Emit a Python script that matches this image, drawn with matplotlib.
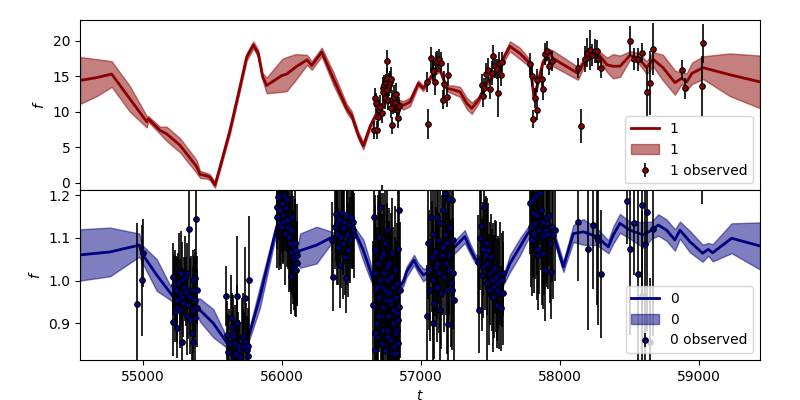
import numpy as np
import matplotlib.pyplot as plt

### Modell Kurve 1 (oben): Zeit, Mittelwert, halbe Bandbreite
t1_model = [54547, 54667, 54775, 54906, 55027, 55038, 55122, 55170, 55266, 55386,
            55410, 55458, 55482, 55518, 55554, 55626, 55698, 55746, 55794, 55829,
            55861, 55890, 56000, 56034, 56100, 56180, 56214, 56286, 56369, 56465,
            56501, 56549, 56585, 56633, 56681, 56753, 56825, 56873, 56921, 56981,
            57016, 57065, 57088, 57137, 57185, 57232, 57281, 57329, 57365, 57412,
            57473, 57568, 57640, 57712, 57784, 57813, 57878, 57928, 57950, 58129,
            58192, 58266, 58338, 58381, 58432, 58503, 58561, 58624, 58669, 58741,
            58827, 58875, 58911, 58950, 59029, 59223, 59439]
f1_mean = [14.4, 14.8, 15.3, 11.8, 8.6, 9.0, 7.4, 6.9, 5.3, 2.3,
           1.2, 1.0, 0.8, -0.3, 2.2, 7.4, 13.5, 17.7, 19.4, 18.2,
           14.9, 13.7, 15.1, 15.3, 16.3, 17.3, 16.5, 18.4, 14.7, 10.5,
           9.5, 6.7, 5.2, 7.9, 9.8, 11.6, 11.4, 10.9, 11.4, 14.0,
           13.3, 14.7, 15.4, 15.9, 13.3, 13.1, 12.8, 11.2, 10.5, 11.6,
           14.0, 16.6, 19.2, 18.2, 16.8, 11.9, 17.0, 18.4, 17.5, 15.4,
           17.6, 18.4, 16.6, 16.4, 16.4, 17.9, 17.6, 16.2, 17.4, 16.2,
           14.1, 14.7, 14.2, 15.4, 16.2, 15.2, 14.2]
f1_hw = [3.3, 2.6, 1.8, 1.8, 0.8, 0.4, 0.5, 1.0, 1.0, 0.9,
         0.5, 0.4, 0.4, 0.4, 0.4, 0.5, 0.5, 0.5, 0.5, 0.5,
         0.5, 1.1, 2.3, 2.4, 1.8, 0.7, 0.6, 0.6, 0.9, 0.6,
         0.6, 0.5, 0.5, 0.4, 0.3, 0.3, 0.4, 0.6, 0.6, 0.4,
         0.4, 0.3, 0.3, 0.3, 0.4, 0.6, 0.7, 0.8, 0.8, 0.5,
         0.4, 0.4, 0.7, 0.8, 0.5, 0.5, 0.4, 0.4, 1.1, 0.9,
         0.5, 0.4, 1.0, 1.7, 1.5, 0.6, 0.7, 0.9, 1.0, 1.8,
         1.7, 0.8, 1.2, 1.5, 1.6, 3.0, 3.7]

### Beobachtungen 1
t1_obs = [56669, 56674, 56662, 56686, 56693, 56700, 56705, 56717, 56724, 56729,
          56734, 56741, 56748, 56753, 56758, 56758, 56765, 56772, 56777, 56782,
          56787, 56789, 56794, 56801, 56808, 56813, 56818, 56825, 56830, 56837, 56844,
          57045, 57053, 57072, 57084, 57089, 57101, 57105, 57117, 57132, 57141, 57161, 57168, 57185, 57197,
          57436, 57444, 57456, 57468, 57484, 57496, 57508, 57516, 57532, 57544, 57556, 57564, 57575, 57580,
          57784, 57796, 57808, 57820, 57837, 57837, 57868, 57880, 57892, 57909, 57923, 57940,
          58132, 58151, 58180, 58196, 58216, 58228, 58252, 58264, 58276, 58292,
          58503, 58532, 58563, 58592, 58623, 58647, 58666, 58875, 58899, 59019, 59031,
          56717]
f1_obs = [12.0, 11.2, 7.4, 7.4, 9.3, 10.2, 10.7, 9.8, 12.8, 13.3,
          13.8, 11.9, 14.0, 14.7, 17.1, 13.1, 11.7, 13.8, 14.2, 10.5,
          14.6, 8.1, 11.7, 11.2, 12.1, 11.2, 12.5, 10.2, 10.7, 9.1, 10.8,
          14.2, 8.3, 17.5, 15.9, 15.8, 14.2, 16.8, 17.1, 17.4, 16.9, 11.7, 13.9, 12.1, 15.2,
          13.8, 12.2, 13.3, 15.3, 15.9, 13.2, 15.5, 17.9, 16.4, 16.0, 12.6, 16.9, 15.2, 17.0,
          16.7, 15.0, 9.0, 11.9, 10.2, 14.4, 14.6, 13.2, 18.1, 18.5, 16.4, 17.1,
          16.1, 8.0, 17.4, 18.3, 18.7, 18.0, 18.5, 18.5, 17.4, 16.1,
          19.9, 17.4, 17.4, 18.2, 12.8, 14.0, 18.8, 15.9, 13.3, 13.6, 19.6,
          -2.5]
f1_err = [1.3, 1.4, 1.3, 1.3, 1.5, 1.4, 1.6, 1.4, 1.5, 1.6,
          1.4, 1.5, 1.3, 1.5, 1.6, 1.5, 1.4, 1.6, 1.5, 1.4,
          1.7, 1.2, 1.4, 1.5, 1.6, 1.4, 1.5, 1.3, 1.4, 1.4, 1.3,
          1.4, 2.1, 1.6, 1.5, 1.5, 1.9, 1.6, 1.5, 1.4, 1.5, 1.3, 1.8, 1.4, 1.6,
          1.5, 1.6, 1.4, 1.5, 1.6, 1.4, 1.7, 1.5, 1.6, 1.4, 3.4, 1.5, 1.6, 1.4,
          1.5, 1.4, 1.3, 1.4, 1.3, 1.6, 1.5, 1.5, 1.5, 1.4, 1.3, 1.4,
          1.4, 2.4, 1.8, 2.0, 2.8, 1.5, 1.7, 1.6, 1.5, 1.4,
          2.1, 1.5, 1.6, 1.4, 3.5, 4.5, 3.7, 1.4, 1.5, 4.3, 2.8,
          2.2]

### Modell Kurve 0 (unten)
t0_model = [54547, 54763, 54974, 54991, 55099, 55218, 55290, 55374, 55410, 55506,
            55590, 55674, 55746, 55842, 55962, 55986, 56029, 56072, 56108, 56130,
            56249, 56369, 56513, 56525, 56585, 56633, 56669, 56849, 56873, 56897,
            56950, 56981, 57017, 57064, 57256, 57315, 57353, 57388, 57424, 57520,
            57585, 57640, 57712, 57760, 57800, 57856, 57952, 57988, 58024, 58060,
            58096, 58168, 58264, 58348, 58384, 58431, 58503, 58599, 58659, 58707,
            58767, 58827, 58863, 58935, 59026, 59067, 59098, 59235, 59439]
f0_mean = [1.060, 1.067, 1.083, 1.064, 1.013, 0.962, 0.955, 0.947, 0.931, 0.900,
           0.861, 0.820, 0.853, 0.962, 1.126, 1.134, 1.100, 1.070, 1.058, 1.070,
           1.083, 1.103, 1.122, 1.114, 1.071, 1.025, 0.986, 0.986, 0.997, 1.021,
           1.048, 1.029, 1.013, 1.022, 1.083, 1.103, 1.075, 1.052, 1.044, 1.025,
           0.995, 1.040, 1.079, 1.106, 1.125, 1.138, 1.110, 1.071, 1.032, 1.071,
           1.110, 1.114, 1.103, 1.079, 1.107, 1.134, 1.118, 1.107, 1.118, 1.130,
           1.118, 1.095, 1.118, 1.091, 1.064, 1.073, 1.065, 1.099, 1.081]
f0_hw = [0.060, 0.057, 0.027, 0.020, 0.037, 0.012, 0.010, 0.012, 0.027, 0.033,
         0.015, 0.010, 0.010, 0.025, 0.012, 0.010, 0.010, 0.010, 0.012, 0.040,
         0.043, 0.010, 0.010, 0.010, 0.025, 0.020, 0.008, 0.008, 0.010, 0.012,
         0.012, 0.012, 0.015, 0.008, 0.015, 0.015, 0.012, 0.010, 0.010, 0.010,
         0.010, 0.020, 0.020, 0.015, 0.012, 0.012, 0.010, 0.012, 0.012, 0.015,
         0.020, 0.030, 0.020, 0.015, 0.020, 0.022, 0.020, 0.030, 0.020, 0.025,
         0.025, 0.025, 0.020, 0.025, 0.020, 0.015, 0.020, 0.035, 0.055]

### Beobachtungen 0 (Gruppen)
t0_obs = [54959, 54998, 54995,
          55214, 55223, 55230, 55238, 55242, 55247, 55254, 55262, 55266, 55274,
          55278, 55283, 55290, 55295, 55302, 55310, 55314, 55319, 55326, 55334,
          55338, 55346, 55350, 55358, 55362, 55367, 55372, 55377, 55382, 55386,
          55391, 55218, 55247, 55278, 55362, 55230, 55266, 55338, 55374,
          55597, 55602, 55609, 55621, 55631, 55638, 55645, 55650, 55655, 55662,
          55669, 55674, 55679, 55686, 55693, 55698, 55710, 55717, 55722, 55727,
          55734, 55741, 55746, 55753, 55758, 55765, 55686, 55746,
          55962, 55967, 55974, 55981, 55986, 55993, 55998, 56005, 56010, 56015,
          56022, 56029, 56034, 56039, 56046, 56053, 56058, 56063, 56067, 56072,
          56077, 56082, 56087, 56091, 56096, 56101, 56106, 56111, 56067, 56094,
          56362, 56369, 56381, 56388, 56393, 56398, 56405, 56412, 56417, 56422,
          56429, 56436, 56441, 56446, 56453, 56460, 56465, 56470, 56477, 56484,
          56489, 56494, 56501, 56508, 56513, 56518,
          56657, 56662, 56667, 56671, 56676, 56681, 56686, 56691, 56695, 56700,
          56705, 56710, 56715, 56719, 56724, 56729, 56734, 56739, 56743, 56748,
          56753, 56758, 56763, 56767, 56772, 56777, 56782, 56787, 56791, 56796,
          56801, 56806, 56811, 56815, 56820, 56825, 56830, 56834, 56839, 56844,
          56849, 56669, 56693, 56717, 56741, 56765, 56789, 56813, 56837, 56705,
          56729, 56753, 56777, 56801, 56825, 56681, 56837, 56671, 56758, 56818,
          57046, 57053, 57060, 57065, 57072, 57077, 57084, 57089, 57093, 57101,
          57108, 57113, 57117, 57125, 57132, 57137, 57141, 57149, 57156, 57161,
          57165, 57173, 57180, 57185, 57189, 57194, 57199, 57204, 57209, 57213,
          57221, 57228, 57233, 57237, 57197, 57089, 57137, 57173, 57221, 57113,
          57412, 57420, 57424, 57429, 57436, 57444, 57448, 57453, 57460, 57468,
          57472, 57477, 57484, 57492, 57496, 57501, 57508, 57516, 57520, 57525,
          57532, 57540, 57544, 57549, 57556, 57564, 57568, 57575, 57580, 57587,
          57592,
          57784, 57791, 57796, 57803, 57808, 57813, 57820, 57827, 57832, 57837,
          57844, 57851, 57856, 57861, 57868, 57875, 57880, 57885, 57892, 57899,
          57904, 57909, 57916, 57923, 57928, 57933, 57940, 57952, 57964,
          58132, 58204, 58235, 58264, 58276, 58292,
          58484, 58503, 58532, 58563, 58592, 58611, 58628, 58666, 58587, 58647,
          59019]
f0_obs = [0.944, 1.064, 1.001,
          1.008, 0.990, 0.982, 0.978, 0.955, 0.935, 0.994, 1.021, 0.970, 1.017,
          0.962, 1.001, 0.947, 0.986, 1.005, 0.974, 0.916, 1.017, 0.943, 1.120,
          0.962, 0.978, 0.877, 1.001, 0.931, 0.978, 0.955, 1.005, 1.145, 0.978,
          0.935, 0.904, 0.888, 0.857, 0.857, 0.927, 0.931, 0.908, 0.912,
          0.964, 0.873, 0.832, 0.853, 0.912, 0.892, 0.877, 0.869, 0.826, 0.853,
          0.830, 0.964, 0.900, 0.846, 0.838, 0.822, 0.869, 0.853, 0.871, 0.846,
          0.959, 0.857, 0.838, 0.824, 0.846, 1.001, 0.799, 0.791,
          1.173, 1.149, 1.196, 1.134, 1.165, 1.126, 1.181, 1.153, 1.138, 1.200,
          1.110, 1.169, 1.142, 1.188, 1.126, 1.103, 1.087, 1.118, 1.068, 1.149,
          1.056, 1.079, 1.032, 1.048, 1.087, 1.025, 1.060, 1.040, 1.011, 1.071,
          1.095, 1.009, 1.126, 1.156, 1.110, 1.134, 1.079, 1.145, 1.036, 1.103,
          1.157, 1.122, 1.087, 1.138, 1.056, 1.005, 1.110, 1.153, 1.071, 1.130,
          1.095, 1.149, 1.126, 1.138, 1.118, 1.106,
          0.943, 1.149, 1.017, 1.071, 0.978, 0.900, 0.869, 1.040, 1.103, 0.962,
          1.001, 0.916, 1.056, 0.986, 0.939, 0.885, 1.017, 0.978, 1.087, 0.955,
          1.118, 1.001, 0.916, 1.040, 0.970, 0.861, 1.009, 0.947, 1.064, 0.900,
          0.986, 0.846, 1.025, 0.931, 0.962, 0.885, 0.994, 1.075, 0.939, 1.165,
          0.978, 0.877, 0.916, 0.853, 0.838, 0.869, 0.830, 0.877, 0.853, 1.173,
          1.064, 1.032, 0.955, 0.931, 0.923, 0.986, 0.908, 0.838, 0.885, 0.830,
          0.917, 1.087, 1.025, 0.978, 1.149, 1.056, 1.001, 1.110, 0.947, 1.068,
          1.032, 1.149, 0.986, 1.095, 1.017, 1.134, 0.970, 1.060, 1.165, 1.079,
          1.009, 1.110, 1.040, 0.978, 1.087, 0.898, 1.060, 1.025, 1.126, 0.994,
          1.188, 1.095, 1.017, 0.955, 1.192, 0.900, 0.931, 1.204, 0.978, 1.040,
          1.044, 0.931, 1.099, 1.128, 1.013, 1.075, 1.032, 1.173, 1.060, 1.087,
          0.994, 1.040, 1.071, 0.978, 1.017, 1.056, 1.001, 1.025, 0.962, 0.986,
          1.032, 1.009, 0.943, 0.978, 0.994, 0.970, 1.017, 0.935, 1.001, 0.970,
          1.017,
          1.181, 1.126, 1.095, 1.157, 1.192, 1.110, 1.134, 1.200, 1.075, 1.153,
          1.060, 1.118, 1.204, 1.165, 1.103, 1.064, 1.138, 1.106, 1.025, 1.118,
          1.149, 1.134, 1.110, 1.153, 1.087, 1.021, 1.126, 1.106, 1.118,
          1.138, 1.075, 1.130, 1.103, 1.096, 1.015,
          1.186, 1.073, 1.134, 1.015, 1.177, 1.085, 1.161, 1.120, 0.964, 0.857,
          1.350]
f0_err = [0.19, 0.08, 0.13,
          0.08, 0.07, 0.09, 0.08, 0.10, 0.08, 0.07, 0.09, 0.08, 0.10,
          0.07, 0.09, 0.08, 0.07, 0.10, 0.08, 0.09, 0.07, 0.08, 0.10,
          0.09, 0.08, 0.09, 0.07, 0.10, 0.08, 0.09, 0.07, 0.13, 0.08,
          0.09, 0.08, 0.07, 0.09, 0.08, 0.07, 0.09, 0.08, 0.10,
          0.07, 0.08, 0.09, 0.08, 0.10, 0.08, 0.09, 0.07, 0.08, 0.09,
          0.08, 0.14, 0.09, 0.08, 0.07, 0.08, 0.09, 0.08, 0.10, 0.08,
          0.12, 0.09, 0.08, 0.07, 0.09, 0.15, 0.08, 0.08,
          0.10, 0.12, 0.10, 0.11, 0.13, 0.10, 0.12, 0.11, 0.10, 0.13,
          0.12, 0.10, 0.11, 0.12, 0.10, 0.13, 0.11, 0.12, 0.10, 0.14,
          0.11, 0.12, 0.10, 0.13, 0.15, 0.11, 0.12, 0.10, 0.09, 0.12,
          0.09, 0.08, 0.10, 0.11, 0.12, 0.10, 0.09, 0.11, 0.10, 0.12,
          0.10, 0.11, 0.13, 0.10, 0.09, 0.08, 0.12, 0.10, 0.11, 0.13,
          0.10, 0.12, 0.10, 0.11, 0.09, 0.10,
          0.15, 0.14, 0.16, 0.13, 0.17, 0.15, 0.14, 0.16, 0.15, 0.13,
          0.16, 0.14, 0.15, 0.17, 0.13, 0.15, 0.16, 0.14, 0.15, 0.13,
          0.14, 0.16, 0.15, 0.13, 0.17, 0.14, 0.15, 0.16, 0.13, 0.15,
          0.14, 0.16, 0.15, 0.17, 0.13, 0.15, 0.14, 0.16, 0.15, 0.14,
          0.16, 0.15, 0.13, 0.14, 0.16, 0.15, 0.14, 0.13, 0.15, 0.16,
          0.14, 0.15, 0.16, 0.13, 0.15, 0.14, 0.16, 0.15, 0.13, 0.14,
          0.12, 0.13, 0.14, 0.12, 0.15, 0.13, 0.14, 0.12, 0.13, 0.15,
          0.14, 0.12, 0.13, 0.15, 0.14, 0.12, 0.13, 0.14, 0.15, 0.12,
          0.13, 0.14, 0.12, 0.15, 0.13, 0.10, 0.14, 0.12, 0.13, 0.15,
          0.14, 0.12, 0.13, 0.14, 0.12, 0.13, 0.15, 0.12, 0.14, 0.13,
          0.11, 0.10, 0.12, 0.10, 0.13, 0.11, 0.12, 0.10, 0.13, 0.11,
          0.20, 0.12, 0.11, 0.13, 0.12, 0.10, 0.12, 0.11, 0.13, 0.12,
          0.11, 0.13, 0.10, 0.12, 0.11, 0.13, 0.12, 0.10, 0.11, 0.12,
          0.10,
          0.12, 0.14, 0.13, 0.15, 0.12, 0.14, 0.13, 0.15, 0.12, 0.14,
          0.13, 0.15, 0.12, 0.14, 0.16, 0.13, 0.15, 0.14, 0.12, 0.13,
          0.14, 0.15, 0.13, 0.12, 0.14, 0.11, 0.13, 0.15, 0.12,
          0.14, 0.19, 0.15, 0.16, 0.20, 0.15,
          0.10, 0.20, 0.12, 0.22, 0.25, 0.30, 0.28, 0.25, 0.20, 0.15,
          0.17]

### Plot
fig, axes = plt.subplots(2, 1, figsize=(8, 4), sharex=True)
fig.subplots_adjust(left=0.1, right=0.95, top=0.95, bottom=0.1, hspace=0)

panels = [
    (axes[0], '1', 'darkred', t1_model, f1_mean, f1_hw, t1_obs, f1_obs, f1_err, (-1.0, 22.9)),
    (axes[1], '0', 'navy', t0_model, f0_mean, f0_hw, t0_obs, f0_obs, f0_err, (0.814, 1.212)),
]
for ax, name, col, tm, fm, hw, to, fo, eo, ylim in panels:
    fm = np.array(fm)
    hw = np.array(hw)
    ax.plot(tm, fm, color=col, lw=2, label=name)
    ax.fill_between(tm, fm - hw, fm + hw, color=col, alpha=0.5, label=name)
    ax.errorbar(to, fo, yerr=eo, fmt='o', color=col, ecolor='k', mec='k',
                ms=4, mew=0.8, elinewidth=1.2, label=name + ' observed')
    ax.set_ylabel('$f$')
    ax.set_ylim(ylim)
    ax.legend(loc='lower right')

axes[1].set_xlabel('$t$')
axes[1].set_xlim(54547, 59439)
fig.savefig('out.png')
